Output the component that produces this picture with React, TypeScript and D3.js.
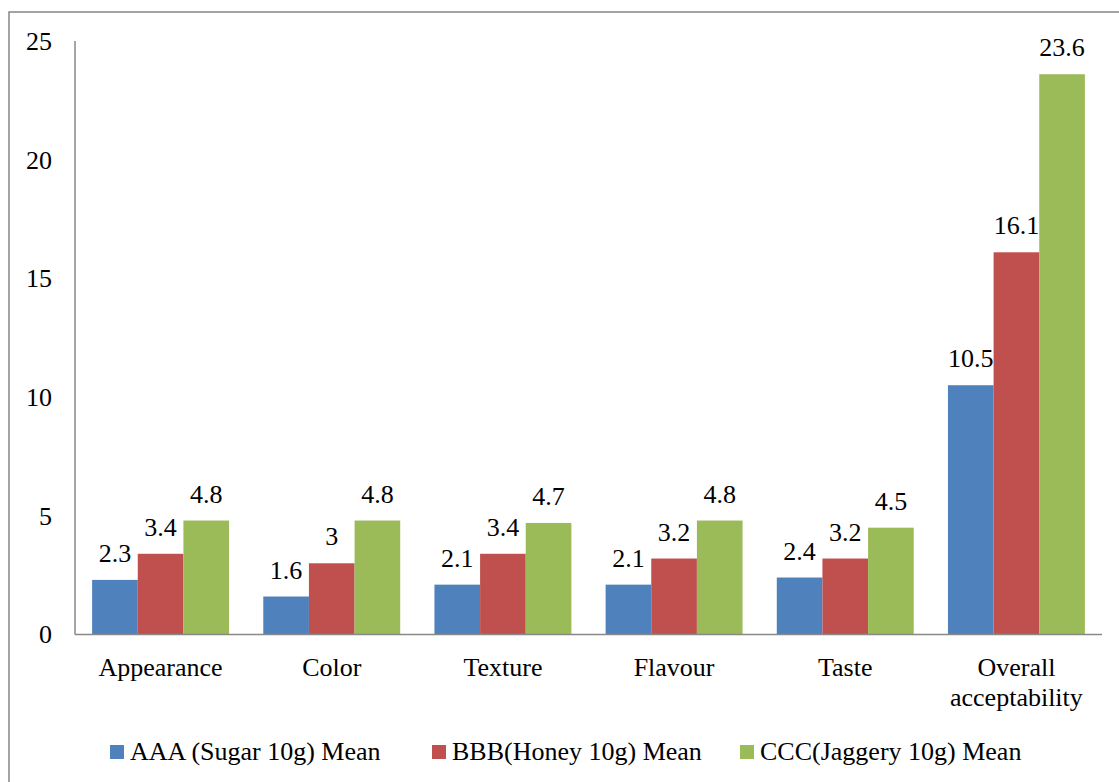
import React from "react";
import * as d3 from "d3";

const categories = ["Appearance", "Color", "Texture", "Flavour", "Taste", "Overall acceptability"];
const categoryLines = [["Appearance"], ["Color"], ["Texture"], ["Flavour"], ["Taste"], ["Overall", "acceptability"]];
const seriesNames = ["AAA (Sugar 10g) Mean", "BBB(Honey 10g) Mean", "CCC(Jaggery 10g) Mean"];
const sugarValues = [2.3, 1.6, 2.1, 2.1, 2.4, 10.5];
const honeyValues = [3.4, 3.0, 3.4, 3.2, 3.2, 16.1];
const jaggeryValues = [4.8, 4.8, 4.7, 4.8, 4.5, 23.6];
const seriesColors = ["#4F81BD", "#C0504D", "#9BBB59"];
const yTicks = [0, 5, 10, 15, 20, 25];

const W = 1119;
const H = 782;
const FONT = "'Liberation Serif', 'Times New Roman', serif";
const FS = 26;

export default function App() {
  const seriesValues = [sugarValues, honeyValues, jaggeryValues];
  const x0 = d3.scaleBand<string>().domain(categories).range([75, 1102]).paddingInner(0.2).paddingOuter(0.1);
  const x1 = d3.scaleBand<number>().domain([0, 1, 2]).range([0, x0.bandwidth()]);
  const y = d3.scaleLinear().domain([0, 25]).range([634.5, 41]);
  const fmt = (v: number) => String(v);
  const legendX = [110, 432, 740];

  return (
    <svg width={W} height={H} style={{ position: "absolute", left: 0, top: 0, background: "#fff" }}>
      <rect x={9} y={12} width={W + 20} height={H + 20} fill="#fff" stroke="#878787" strokeWidth={1.5} />
      {yTicks.map((t) => (
        <text key={t} x={52} y={y(t)} dy="0.34em" textAnchor="end" fontFamily={FONT} fontSize={FS} fill="#000">
          {t}
        </text>
      ))}
      {categories.map((c, ci) => (
        <g key={c} transform={`translate(${x0(c)},0)`}>
          {seriesValues.map((vals, si) => (
            <rect key={si} x={x1(si)} y={y(vals[ci])} width={x1.bandwidth()} height={y(0) - y(vals[ci])} fill={seriesColors[si]} />
          ))}
          {seriesValues.map((vals, si) => (
            <text key={"l" + si} x={(x1(si) as number) + x1.bandwidth() / 2} y={y(vals[ci]) - 18} textAnchor="middle" fontFamily={FONT} fontSize={FS} fill="#000">
              {fmt(vals[ci])}
            </text>
          ))}
        </g>
      ))}
      <line x1={75} x2={75} y1={41} y2={634.5} stroke="#898989" strokeWidth={1.5} />
      <line x1={75} x2={1102} y1={634.5} y2={634.5} stroke="#898989" strokeWidth={1.5} />
      {categories.map((c, ci) => (
        <text key={c} x={(x0(c) as number) + x0.bandwidth() / 2} y={676} textAnchor="middle" fontFamily={FONT} fontSize={FS} fill="#000">
          {categoryLines[ci].map((ln, li) => (
            <tspan key={li} x={(x0(c) as number) + x0.bandwidth() / 2} dy={li === 0 ? 0 : 30}>
              {ln}
            </tspan>
          ))}
        </text>
      ))}
      {seriesNames.map((n, si) => (
        <g key={n}>
          <rect x={legendX[si]} y={745} width={14} height={14} fill={seriesColors[si]} />
          <text x={legendX[si] + 20} y={760} fontFamily={FONT} fontSize={FS} fill="#000">
            {n}
          </text>
        </g>
      ))}
    </svg>
  );
}
